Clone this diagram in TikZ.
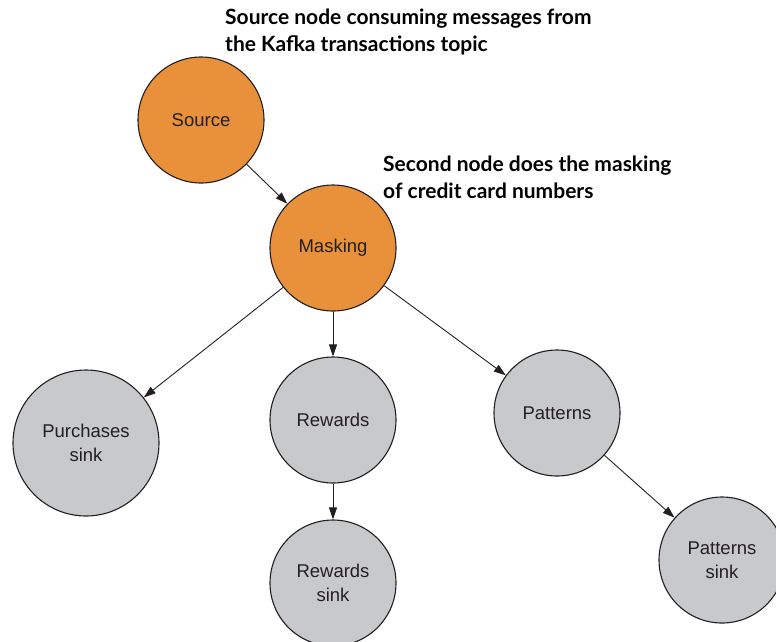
\documentclass[tikz,border=0pt]{standalone}
\usepackage{fontspec}
\setmainfont{Liberation Sans}
\newfontfamily\notefont{Lato}
\usetikzlibrary{arrows.meta}
\definecolor{maskorange}{HTML}{E8913A}
\definecolor{sinkgray}{HTML}{C8C9CB}
\definecolor{inkgray}{HTML}{231F20}

\begin{document}
\begin{tikzpicture}[x=1pt, y=-1pt,
		every node/.style={font=\fontsize{18.5}{24}\selectfont, text=inkgray},
		proc/.style={circle, draw=inkgray, line width=1.1pt, minimum size=126pt, inner sep=0pt, align=center},
		hot/.style={proc, fill=maskorange},
		cold/.style={proc, fill=sinkgray},
		note/.style={font=\notefont\bfseries\fontsize{21}{26.5}\selectfont, text=black, align=left, anchor=north west, inner sep=0pt},
		flow/.style={-{Triangle[length=12pt,width=8pt]}, draw=inkgray, line width=0.9pt}]
		
		\useasboundingbox (0,0) rectangle (776,641);
		\clip (0,0) rectangle (776,641);
		
		% Processing nodes
		\node[hot] (source) at (201,120) {Source};
		\node[hot] (masking) at (333,248) {Masking};
		
		% Child nodes
		\node[cold, minimum size=146pt] (purchases) at (86,443) {Purchases\\sink};
		\node[cold] (rewards) at (333,420) {Rewards};
		\node[cold] (rewardssink) at (333,583) {Rewards\\sink};
		\node[cold] (patterns) at (557,413) {Patterns};
		\node[cold] (patternssink) at (722,560) {Patterns\\sink};
		
		% Connectors
		\draw[flow] (source) -- (masking);
		\draw[flow] (masking) -- (purchases);
		\draw[flow] (masking) -- (rewards);
		\draw[flow] (masking) -- (patterns);
		\draw[flow] (rewards) -- (rewardssink);
		\draw[flow] (patterns) -- (patternssink);
		
		% Annotations
		\node[note] (sourcenote) at (225,9) {Source node consuming messages from\\the Kafka transactions topic};
		\node[note] (maskingnote) at (383,156) {Second node does the masking\\of credit card numbers};
		
	\end{tikzpicture}
\end{document}
